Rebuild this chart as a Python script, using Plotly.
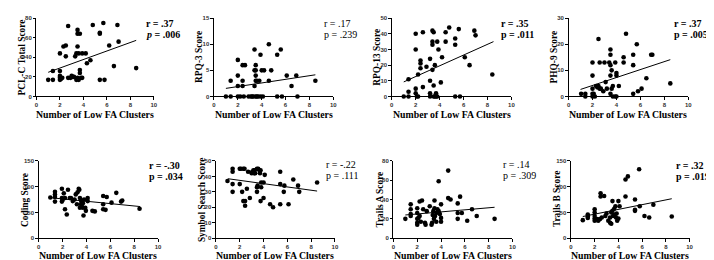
import plotly.graph_objects as go

# ---------------- data ----------------
x_pcl = [1.0,1.4,1.4,2.0,2.0,2.0,2.0,2.0,2.1,2.2,2.3,2.5,2.5,2.7,2.7,2.9,3.0,3.1,3.3,3.4,3.5,3.5,3.7,3.5,3.4,3.5,3.6,3.7,3.7,3.8,3.9,3.9,4.2,4.3,4.6,4.8,5.4,5.4,5.4,5.7,5.8,6.2,6.6,6.9,7.0,8.5,3.6,3.2]
y_pcl = [17,17,26,26,44,17,19,21,18,19,51,52,41,72,19,19,21,20,41,44,68,64,64,51,17,19,17,27,24,19,19,44,44,34,37,73,64,65,17,75,17,52,31,73,56,29,44,20]

x_rpq3 = [1.0,1.4,1.4,2.0,2.0,2.0,2.0,2.2,2.4,2.6,2.4,2.4,2.5,2.9,3.1,3.2,3.3,3.5,3.6,3.7,3.9,4.1,3.4,3.5,3.4,3.5,3.5,3.4,3.5,3.6,3.8,3.9,4.0,4.2,4.6,4.6,4.8,5.3,5.3,5.6,5.7,6.1,6.5,6.9,7.0,8.5]
y_rpq3 = [0,0,3,7,4,2,0,0,6,6,3,2,0,0,0,0,0,0,0,0,0,0,5,5,9,6,4,2,3,3,3,8,5,5,10,3,5,8,0,9,0,4,2,4,0,3]

x_rpq13 = [1.0,1.4,1.4,1.4,2.0,2.0,2.0,2.0,2.1,2.2,2.2,2.4,2.4,2.4,2.6,2.6,2.9,3.2,3.2,3.2,3.2,3.4,3.5,3.4,3.4,3.4,3.5,3.6,3.7,3.8,3.5,3.6,3.7,3.8,3.9,4.1,4.2,4.5,4.5,4.8,5.3,5.3,5.3,5.6,5.7,6.1,6.5,6.9,7.0,8.4]
y_rpq13 = [0,0,3,11,40,30,5,2,0,0,14,23,21,18,41,6,19,24,10,2,0,42,41,35,33,17,0,0,0,0,7,20,2,35,30,9,25,35,41,44,37,33,0,43,0,25,20,42,39,14]

x_phq9 = [1.05,1.4,1.4,2.0,2.0,2.0,2.0,2.1,2.0,2.2,2.3,2.5,2.5,2.6,2.6,2.9,3.0,3.1,3.2,3.4,3.5,3.5,3.5,3.5,3.5,3.6,3.6,3.7,3.7,3.9,4.0,4.0,3.9,4.0,4.2,4.6,4.6,4.8,5.4,5.4,5.4,5.7,5.8,6.1,6.5,6.9,7.0,8.5,2.4,2.7]
y_phq9 = [1,1,0,13,8,3,1,1,0,0,4,22,4,13,3,2,13,5.5,3,13,12,18,16,8,1,10,3,4,0,13,9,8,0,0,4,15,13,24,16,12,1,20,2,3,7,16,16,5,3.5,3]

x_coding = [0.97,1.36,1.36,1.36,1.36,1.94,1.94,1.94,2.1,2.2,2.2,2.35,2.45,2.6,2.7,2.85,3.0,3.1,3.25,3.2,3.35,3.4,3.45,3.45,3.55,3.55,3.6,3.7,3.75,3.8,3.9,3.95,4.1,4.1,4.5,4.7,5.4,5.4,5.4,5.7,5.6,6.1,6.5,6.9,7.0,8.45,2.0,3.6,3.7]
y_coding = [79,90,85,80,71,96,78,71,87,78,56,46,94,78,78,72,75,85,89,66,96,94,78,59,73,66,70,59,44,75,59,53,78,72,53,52,82,66,56,80,55,69,88,71,73,57,74,63,68]

x_symbol = [0.97,1.4,1.4,1.4,1.4,2.0,2.1,2.3,2.4,2.0,2.2,2.3,2.45,2.45,2.6,2.7,2.85,3.0,3.05,3.15,3.25,3.3,3.2,3.45,3.55,3.65,3.75,3.45,3.45,3.5,3.7,3.75,3.8,4.0,4.1,4.0,3.8,4.55,4.8,5.4,5.4,5.4,5.7,5.75,6.1,6.5,6.9,7.0,8.5]
y_symbol = [37,45,43,35,30,45,45,45,45,35,30,24,24,21,32,43,26,42,43,44,44,42,42,45,45,44,44,33,30,34,42,24,36,36,41,26,33,22,20,43,22,35,30,34,22,38,34,30,36]

x_trailsa = [1.0,1.45,1.45,1.45,1.45,2.0,2.0,2.0,2.0,2.0,2.1,2.2,2.4,2.2,2.3,2.5,2.65,2.7,2.8,3.05,3.2,3.25,3.3,3.35,3.4,3.45,3.45,3.5,3.6,3.6,3.7,3.8,3.9,3.8,4.0,4.0,4.0,4.6,4.6,4.8,5.4,5.4,5.4,5.6,5.75,6.2,6.6,7.0,8.5]
y_trailsa = [20,35,30,25,23,31,26,20,16,14,21,38,39,23,17,30,16,14,28,33,14,16,24,28,20,39,31,23,26,17,30,28,25,59,35,21,17,70,41.5,40,36,26,20,43,26,18,30,23,20]

x_trailsb = [1.0,1.42,1.42,1.42,2.0,2.0,2.0,2.0,2.0,2.2,2.3,2.45,2.5,2.5,2.8,2.6,2.9,3.0,3.15,3.3,3.4,3.3,3.4,3.5,3.5,3.55,3.65,3.7,3.75,3.8,3.85,3.9,4.0,4.0,4.1,4.6,4.8,4.6,5.4,5.4,5.4,5.75,5.8,6.2,6.6,6.95,8.5]
y_trailsb = [35,46,42,39,56,50,43,38,34,37,34,37,87,81,82,40,43,48,34,30,28,40,50,53,72,43,57,46,62,40,48,34,38,72,62,114,120,81,75,53,55,134,62,43,40,65,42]

# regression line end points
fit_x = [1.0, 8.5]
fit_pcl = [24.7, 57.3]
fit_rpq3 = [1.55, 4.15]
fit_rpq13 = [9.3, 35.0]
fit_phq9 = [2.7, 14.1]
fit_coding = [78.5, 61.4]
fit_symbol = [38.5, 30.5]
fit_trailsa = [24.0, 32.0]
fit_trailsb = [42.0, 76.6]

y_titles = ["PCL-C Total Score", "RPQ-3 Score", "RPQ-13 Score", "PHQ-9 Score",
            "Coding Score", "Symbol Search Score", "Trails A Score", "Trails B Score"]
r_texts = ["r = .37", "r = .17", "r = .35", "r = .37", "r = -.30", "r = -.22", "r = .14", "r = .32"]
p_values = [".006", ".239", ".011", ".005", ".034", ".111", ".309", ".019"]
y_max = [80, 15, 50, 30, 150, 50, 80, 150]
y_step = [20, 5, 10, 10, 50, 10, 20, 50]
x_ticks = [0, 2, 4, 6, 8, 10]
x_title = "Number of Low FA Clusters"

# ---------------- layout / style ----------------
W, H = 714, 260
bold_stats = [True, False, True, True, True, False, False, True]
italic_p = [True, False, False, False, False, False, False, False]
# plot areas in pixels (left, right, top, bottom)
boxes = [(26.7, 145.0, 7.3, 87.5), (205.7, 326.0, 7.3, 87.5), (385.0, 505.7, 7.3, 87.5), (563.3, 684.0, 7.3, 87.5),
         (29.0, 149.3, 153.5, 232.5), (207.7, 327.7, 153.5, 232.5), (386.7, 506.7, 153.5, 232.5), (565.7, 685.3, 153.5, 232.5)]
# annotation anchor (left x, y of r-line, y of p-line) in pixels
stat_pos = [(135, 13, 24.5), (315, 13, 24.5), (493, 13, 24.5), (668, 13, 24.5),
            (138, 158, 169.5), (317, 157, 168.5), (495, 157, 168.5), (670, 158, 169.5)]
xtitle_y = [105.5, 105.5, 105.5, 105.5, 250.5, 250.5, 250.5, 250.5]
ytitle_dx = 14.5

serif = "Liberation Serif, Times New Roman, serif"
sans = "Liberation Sans, Arial, sans-serif"

xs = [x_pcl, x_rpq3, x_rpq13, x_phq9, x_coding, x_symbol, x_trailsa, x_trailsb]
ys = [y_pcl, y_rpq3, y_rpq13, y_phq9, y_coding, y_symbol, y_trailsa, y_trailsb]
fits = [fit_pcl, fit_rpq3, fit_rpq13, fit_phq9, fit_coding, fit_symbol, fit_trailsa, fit_trailsb]

fig = go.Figure()
layout = dict(width=W, height=H, margin=dict(l=0, r=0, t=0, b=0),
              paper_bgcolor="white", plot_bgcolor="white", showlegend=False)
annotations = []

for i in range(8):
    n = "" if i == 0 else str(i + 1)
    xa, ya = "x" + n, "y" + n
    fig.add_trace(go.Scatter(x=xs[i], y=ys[i], mode="markers", xaxis=xa, yaxis=ya,
                             marker=dict(color="black", size=4.6), cliponaxis=False))
    fig.add_trace(go.Scatter(x=fit_x, y=fits[i], mode="lines",
                             xaxis=xa, yaxis=ya, line=dict(color="black", width=1)))
    l, r, t, b = boxes[i]
    axis_common = dict(showline=True, linecolor="black", linewidth=1, ticks="outside",
                       ticklen=2.5, tickwidth=1, tickcolor="black", showgrid=False, zeroline=False,
                       tickfont=dict(family=sans, size=6, color="#333", weight="bold"))
    layout["xaxis" + n] = dict(axis_common, domain=[l / W, r / W], anchor=ya, range=[0, 10],
                               tickvals=x_ticks)
    layout["yaxis" + n] = dict(axis_common, domain=[1 - b / H, 1 - t / H], anchor=xa,
                               range=[0, y_max[i]], dtick=y_step[i], tick0=0)
    # axis titles
    annotations.append(dict(x=(l + r) / 2 / W, y=1 - xtitle_y[i] / H, xref="paper", yref="paper",
                            xanchor="center", yanchor="middle", showarrow=False, text=x_title,
                            font=dict(family=serif, size=9.8, color="black", weight="bold")))
    annotations.append(dict(x=(l - ytitle_dx) / W, y=1 - (t + b) / 2 / H, xref="paper", yref="paper",
                            xanchor="center", yanchor="middle", showarrow=False, text=y_titles[i],
                            textangle=-90,
                            font=dict(family=serif, size=9.4, color="black", weight="bold")))
    px, ry, py = stat_pos[i]
    wt = "bold" if bold_stats[i] else "normal"
    annotations.append(dict(x=px / W, y=1 - ry / H, xref="paper", yref="paper", xanchor="left",
                            yanchor="middle", showarrow=False, text=r_texts[i],
                            font=dict(family=serif, size=10, color="black", weight=wt)))
    ptxt = ("<i>p</i>" if italic_p[i] else "p") + " = " + p_values[i]
    annotations.append(dict(x=px / W, y=1 - py / H, xref="paper", yref="paper", xanchor="left",
                            yanchor="middle", showarrow=False, text=ptxt,
                            font=dict(family=serif, size=10, color="black", weight=wt)))

layout["annotations"] = annotations
fig.update_layout(**layout)
fig.write_html("out.html")
